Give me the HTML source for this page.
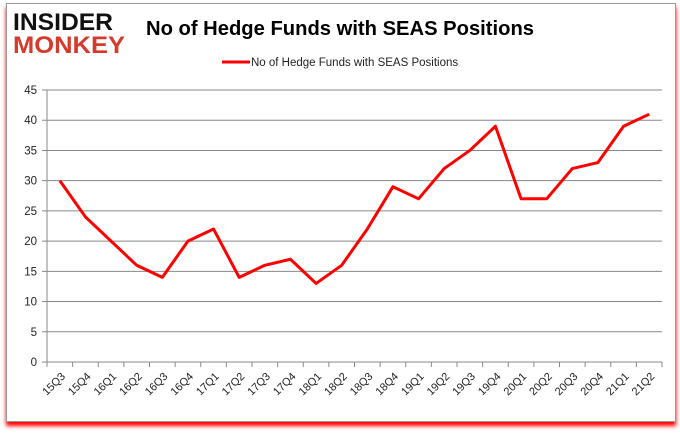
<!DOCTYPE html>
<html><head><meta charset="utf-8"><style>
body{margin:0;background:#fff;width:680px;height:433px;overflow:hidden;font-family:"Liberation Sans",sans-serif}
#frame{position:absolute;left:6px;top:3px;width:668px;height:417px;border:1px solid #999;background:#fff;box-shadow:0 4px 4px #f00}
</style></head><body>
<div id="frame"></div>
<svg id="c" width="680" height="433" style="position:absolute;left:0;top:0">
<text x="13" y="30" font-size="24" font-weight="bold" fill="#111" font-family="Liberation Sans" textLength="100" lengthAdjust="spacingAndGlyphs">INSIDER</text>
<text x="13" y="53" font-size="24" font-weight="bold" fill="#d63a2a" font-family="Liberation Sans" textLength="112" lengthAdjust="spacingAndGlyphs">MONKEY</text>
<text x="146" y="35" font-size="20" font-weight="bold" fill="#000" textLength="388" lengthAdjust="spacingAndGlyphs">No of Hedge Funds with SEAS Positions</text>
<line x1="222" y1="62" x2="250" y2="62" stroke="#f00" stroke-width="3"/>
<text x="251" y="66" font-size="11.5" fill="#222">No of Hedge Funds with SEAS Positions</text>
<g id="g"></g>
</svg>
<script>
const categories=["15Q3","15Q4","16Q1","16Q2","16Q3","16Q4","17Q1","17Q2","17Q3","17Q4","18Q1","18Q2","18Q3","18Q4","19Q1","19Q2","19Q3","19Q4","20Q1","20Q2","20Q3","20Q4","21Q1","21Q2"];
const values=[30,24,20,16,14,20,22,14,16,17,13,16,22,29,27,32,35,39,27,27,32,33,39,41];
const yTicks=[0,5,10,15,20,25,30,35,40,45];
const L=47,R=662,T=90,B=362,yMax=45;
const bw=(R-L)/categories.length;
const x=i=>L+bw*(i+0.5);
const y=v=>B-(v/yMax)*(B-T);
const g=document.getElementById('g');
const NS='http://www.w3.org/2000/svg';
function mk(t,a){const e=document.createElementNS(NS,t);for(const k in a)e.setAttribute(k,a[k]);g.appendChild(e);return e;}
yTicks.forEach(v=>{
 const ln=mk('line',{x1:L-5,x2:R,y1:y(v),y2:y(v),stroke:'#888','stroke-width':1});
 
 
 const t=mk('text',{x:L-10,y:y(v)+4,'font-size':11.5,'text-anchor':'end',fill:'#222'});
 t.textContent=v;
 
 
});
const ax=mk('line',{x1:L,x2:L,y1:T,y2:B+5,stroke:'#888'});


categories.forEach((c,i)=>{
 const tk=mk('line',{x1:L+bw*(i+1),x2:L+bw*(i+1),y1:B,y2:B+5,stroke:'#888'});
 
 
 const t=mk('text',{x:x(i)+6,y:B+15,'font-size':11,'text-anchor':'end',fill:'#222',transform:`rotate(-45 ${x(i)+6} ${B+15})`});
 t.textContent=c;
 
 
});
const p=mk('polyline',{points:values.map((v,i)=>x(i)+','+y(v)).join(' '),fill:'none',stroke:'#f00','stroke-width':3,'stroke-linejoin':'round'});


</script>
</body></html>
